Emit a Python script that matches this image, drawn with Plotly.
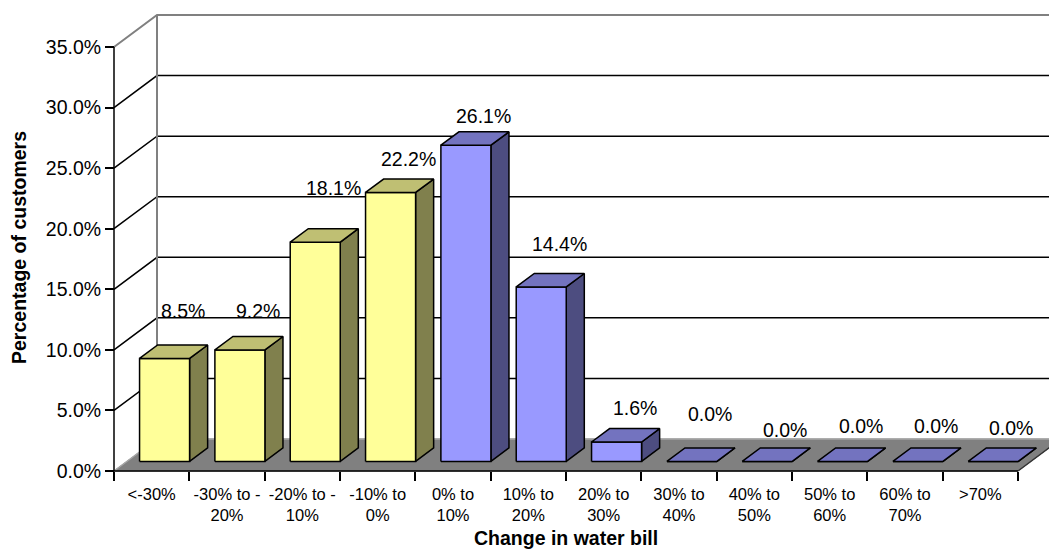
import plotly.graph_objects as go

# ---- data -------------------------------------------------------------
categories = ["<-30%", "-30% to -<br>20%", "-20% to -<br>10%", "-10% to<br>0%",
              "0% to<br>10%", "10% to<br>20%", "20% to<br>30%", "30% to<br>40%",
              "40% to<br>50%", "50% to<br>60%", "60% to<br>70%", ">70%"]
pct_customers = [8.5, 9.2, 18.1, 22.2, 26.1, 14.4, 1.6, 0.0, 0.0, 0.0, 0.0, 0.0]
bill_falls = [True, True, True, True, False, False, False, False, False, False, False, False]
y_ticks = [0, 5, 10, 15, 20, 25, 30, 35]

# extra lift (px) of each value label above its bar
label_lift = [34, 26, 41, 20, 16, 30, 21, 34, 18, 22, 22, 20]

# ---- geometry of the pseudo-3D frame --------------------------------
W, H = 1049, 551
X0_PX, Y0_PX = 114, 471          # pixel of the front origin (x=0, y=0%)
PX_PER_CAT = 75.333
PX_PER_PCT = 12.114
L_PX, R_PX, T_PX, B_PX = 100, W, 8, 480   # plot area box

x_range = [(L_PX - X0_PX) / PX_PER_CAT, (R_PX - X0_PX) / PX_PER_CAT]
y_range = [(Y0_PX - B_PX) / PX_PER_PCT, (Y0_PX - T_PX) / PX_PER_PCT]

DX = 43 / PX_PER_CAT              # full depth, in category units
DY = 32 / PX_PER_PCT              # full depth, in percent units
Z1, Z2 = 0.30, 0.72               # bar depth span (fraction of full depth)
HW = 0.332                        # half width of a bar
YMAX = 35
N = len(categories)

FONT = "Liberation Sans, Arial, sans-serif"
YEL = dict(front="#FFFF99", top="#BFBF73", side="#80804D")
BLU = dict(front="#9999FF", top="#7373BF", side="#4D4D80")


def proj(x, y, z):
    return x + z * DX, y + z * DY


def poly(pts, fill, line_color="black", width=1.5):
    xs, ys = zip(*[proj(*p) for p in pts])
    return go.Scatter(x=list(xs) + [xs[0]], y=list(ys) + [ys[0]], mode="lines",
                      fill="toself", fillcolor=fill,
                      line=dict(color=line_color, width=width),
                      hoverinfo="skip", showlegend=False)


def seg(pts, color, width):
    xs, ys = zip(*[proj(*p) for p in pts])
    return go.Scatter(x=xs, y=ys, mode="lines", line=dict(color=color, width=width),
                      hoverinfo="skip", showlegend=False)


fig = go.Figure()
x_far = x_range[1] + 1

# back wall and side wall gridlines
for v in y_ticks[1:-1]:
    fig.add_trace(seg([(0, v, 0), (0, v, 1), (x_far, v, 1)], "black", 1.5))
fig.add_trace(seg([(0, YMAX, 0), (0, YMAX, 1), (x_far, YMAX, 1)], "#808080", 2))
fig.add_trace(seg([(0, 0, 1), (0, YMAX, 1)], "#808080", 2))

# floor
fig.add_trace(poly([(0, 0, 0), (N, 0, 0), (N, 0, 1), (0, 0, 1)], "#808080",
                   line_color="#808080", width=1))
fig.add_trace(seg([(0, 0, 0), (0, 0, 1), (x_far, 0, 1)], "#A6A6A6", 1.5))
fig.add_trace(seg([(N, 0, 0), (N, 0, 1)], "#333333", 1.5))

# bars
for i, v in enumerate(pct_customers):
    c = YEL if bill_falls[i] else BLU
    xa, xb = i + 0.5 - HW, i + 0.5 + HW
    fig.add_trace(poly([(xb, 0, Z1), (xb, v, Z1), (xb, v, Z2), (xb, 0, Z2)], c["side"]))
    fig.add_trace(poly([(xa, 0, Z1), (xb, 0, Z1), (xb, v, Z1), (xa, v, Z1)], c["front"]))
    fig.add_trace(poly([(xa, v, Z1), (xb, v, Z1), (xb, v, Z2), (xa, v, Z2)], c["top"]))

# front axis lines
fig.add_trace(seg([(0, 0, 0), (0, YMAX, 0)], "black", 1.5))
fig.add_trace(seg([(0, 0, 0), (N, 0, 0)], "black", 1.5))

# value labels
for i, v in enumerate(pct_customers):
    lx, ly = proj(i + 0.5, v, Z2)
    fig.add_annotation(x=lx, y=ly, xref="x", yref="y", text=f"{v:.1f}%",
                       showarrow=False, yshift=label_lift[i], yanchor="middle",
                       font=dict(family=FONT, size=19.5, color="black"))

plot_w = R_PX - L_PX
plot_h = B_PX - T_PX

fig.update_layout(
    width=W, height=H,
    margin=dict(l=L_PX, r=W - R_PX, t=T_PX, b=H - B_PX, pad=0),
    paper_bgcolor="white", plot_bgcolor="white",
    showlegend=False,
    font=dict(family=FONT, color="black"),
    xaxis=dict(range=x_range, tickmode="array",
               tickvals=[i + 0.5 for i in range(N)], ticktext=categories,
               ticks="", showgrid=False, zeroline=False, showline=False,
               anchor="free", position=(B_PX - Y0_PX) / plot_h,
               tickfont=dict(family=FONT, size=16.5), ticklabelstandoff=11),
    xaxis2=dict(range=x_range, overlaying="x", tickmode="array",
                tickvals=list(range(N + 1)), ticks="outside", ticklen=9,
                tickwidth=1.5, tickcolor="black", showticklabels=False,
                showgrid=False, zeroline=False, showline=False,
                anchor="free", position=(B_PX - Y0_PX) / plot_h),
    yaxis=dict(range=y_range, tickmode="array", tickvals=y_ticks,
               ticktext=[f"{t:.1f}%" for t in y_ticks],
               ticks="outside", ticklen=9, tickwidth=1.5, tickcolor="black",
               showgrid=False, zeroline=False, showline=False,
               anchor="free", position=(X0_PX - L_PX) / plot_w,
               tickfont=dict(family=FONT, size=19.5)),
)
fig.add_trace(go.Scatter(x=[0], y=[0], xaxis="x2", mode="markers",
                         marker=dict(opacity=0), hoverinfo="skip", showlegend=False))

fig.add_annotation(text="<b>Percentage of customers</b>", xref="paper", yref="paper",
                   x=(19 - L_PX) / plot_w, y=(B_PX - 248) / plot_h, textangle=-90,
                   showarrow=False, xanchor="center", yanchor="middle",
                   font=dict(family=FONT, size=19.5, color="black"))
fig.add_annotation(text="<b>Change in water bill</b>", xref="paper", yref="paper",
                   x=(566 - L_PX) / plot_w, y=(B_PX - 538) / plot_h,
                   showarrow=False, xanchor="center", yanchor="middle",
                   font=dict(family=FONT, size=19.5, color="black"))

fig.write_html("out.html")
